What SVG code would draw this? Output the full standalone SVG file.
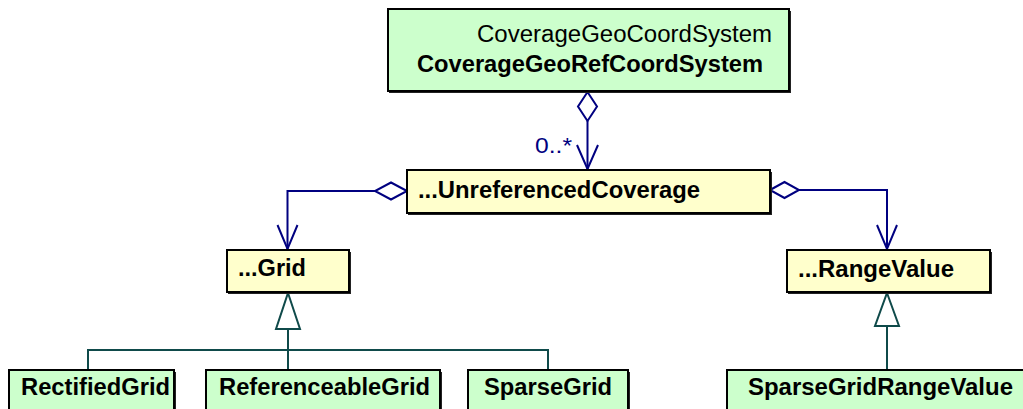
<svg xmlns="http://www.w3.org/2000/svg" width="1023" height="409" viewBox="0 0 1023 409">
<style>
.box{stroke:#000;stroke-width:2}
.green{fill:#ccffcc}
.yellow{fill:#ffffcc}
.shadow{fill:#222}
.t{font-family:"Liberation Sans",Arial,sans-serif;font-size:23px;fill:#000}
.b{font-weight:bold}
.agg{fill:none;stroke:#000080;stroke-width:2}
.dia{fill:#fff;stroke:#000080;stroke-width:2}
.gen{fill:none;stroke:#0f4a4a;stroke-width:2}
.tri{fill:#fff;stroke:#0f4a4a;stroke-width:2}
.lbl{font-family:"Liberation Sans",Arial,sans-serif;font-size:22px;fill:#000080}
</style>
<rect width="1023" height="409" fill="#fff"/>
<g id="connectors">
  <polygon class="dia" points="587.5,92 597,106.5 587.5,121 578,106.5"/>
  <line class="agg" x1="587.5" y1="121" x2="587.5" y2="169"/>
  <polyline class="agg" points="577,145 587.5,169 598,145"/>
  <text class="lbl" x="535" y="153" textLength="37" lengthAdjust="spacingAndGlyphs">0..*</text>
  <polygon class="dia" points="407,191 391,182.5 375,191 391,199.5"/>
  <polyline class="agg" points="375,191 287.5,191 287.5,249"/>
  <polyline class="agg" points="277.5,225 287.5,249 297.5,225"/>
  <polygon class="dia" points="770,190 784.5,182 799,190 784.5,198"/>
  <polyline class="agg" points="799,190 887,190 887,249"/>
  <polyline class="agg" points="877,225 887,249 897,225"/>
  <polygon class="tri" points="288,293 300,329 276,329"/>
  <line class="gen" x1="288" y1="329" x2="288" y2="370"/>
  <polyline class="gen" points="88,370 88,350 548,350 548,370"/>
  <polygon class="tri" points="887,293 899,326 875,326"/>
  <line class="gen" x1="887" y1="326" x2="887" y2="370"/>
</g>
<g id="CoverageGeoRefCoordSystem">
  <rect class="shadow" x="389" y="11" width="402" height="82"/>
  <rect class="box green" x="388" y="9" width="401" height="82"/>
  <text class="t" x="477" y="42" textLength="295" lengthAdjust="spacingAndGlyphs">CoverageGeoCoordSystem</text>
  <text class="t b" x="417" y="72" textLength="346" lengthAdjust="spacingAndGlyphs">CoverageGeoRefCoordSystem</text>
</g>
<g id="UnreferencedCoverage">
  <rect class="shadow" x="408" y="172" width="364" height="43"/>
  <rect class="box yellow" x="407" y="170" width="363" height="43"/>
  <text class="t b" x="418" y="198" textLength="282" lengthAdjust="spacingAndGlyphs">...UnreferencedCoverage</text>
</g>
<g id="Grid">
  <rect class="shadow" x="228" y="252" width="123" height="42"/>
  <rect class="box yellow" x="227" y="250" width="122" height="42"/>
  <text class="t b" x="238" y="276" textLength="68" lengthAdjust="spacingAndGlyphs">...Grid</text>
</g>
<g id="RangeValue">
  <rect class="shadow" x="788" y="252" width="204" height="42"/>
  <rect class="box yellow" x="787" y="250" width="203" height="42"/>
  <text class="t b" x="798" y="277" textLength="156" lengthAdjust="spacingAndGlyphs">...RangeValue</text>
</g>
<g id="RectifiedGrid">
  <rect class="shadow" x="10" y="372" width="166" height="50"/>
  <rect class="box green" x="9" y="370" width="165" height="50"/>
  <text class="t b" x="21" y="395" textLength="149" lengthAdjust="spacingAndGlyphs">RectifiedGrid</text>
</g>
<g id="ReferenceableGrid">
  <rect class="shadow" x="207" y="372" width="235" height="50"/>
  <rect class="box green" x="206" y="370" width="234" height="50"/>
  <text class="t b" x="219" y="395" textLength="211" lengthAdjust="spacingAndGlyphs">ReferenceableGrid</text>
</g>
<g id="SparseGrid">
  <rect class="shadow" x="469" y="372" width="161" height="50"/>
  <rect class="box green" x="468" y="370" width="160" height="50"/>
  <text class="t b" x="484" y="395" textLength="128" lengthAdjust="spacingAndGlyphs">SparseGrid</text>
</g>
<g id="SparseGridRangeValue">
  <rect class="shadow" x="728" y="372" width="310" height="50"/>
  <rect class="box green" x="727" y="370" width="310" height="50"/>
  <text class="t b" x="748" y="395" textLength="265" lengthAdjust="spacingAndGlyphs">SparseGridRangeValue</text>
</g>
</svg>
